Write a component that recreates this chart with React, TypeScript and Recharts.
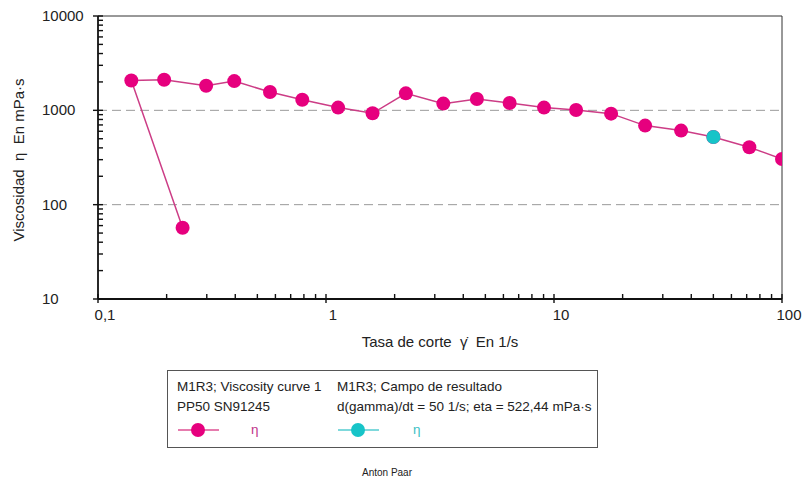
import { ScatterChart, Scatter, XAxis, YAxis, ReferenceLine } from 'recharts';

// shear rate (1/s) and viscosity (mPa·s), in measurement order
const shearRate = [0.235, 0.14, 0.195, 0.298, 0.396, 0.568, 0.787, 1.13, 1.6, 2.24, 3.27, 4.59, 6.39, 9.04, 12.5, 17.8, 25.1, 36.1, 50, 71.9, 100];
const viscosity = [57, 2075, 2113, 1825, 2042, 1563, 1297, 1069, 930, 1514, 1178, 1318, 1194, 1069, 1007, 922, 689, 610, 522.44, 406, 305];

// result field point
const resultRate = [50];
const resultEta = [522.44];

const xTicks = [0.1, 0.2, 0.3, 0.4, 0.5, 0.6, 0.7, 0.8, 0.9, 1, 2, 3, 4, 5, 6, 7, 8, 9, 10, 20, 30, 40, 50, 60, 70, 80, 90, 100];
const xMajor = [0.1, 1, 10, 100];
const xTickLabels = ['0,1', '1', '10', '100'];

const yTicks = [10, 20, 30, 40, 50, 60, 70, 80, 90, 100, 200, 300, 400, 500, 600, 700, 800, 900, 1000, 2000, 3000, 4000, 5000, 6000, 7000, 8000, 9000, 10000];
const yMajor = [10, 100, 1000, 10000];
const yTickLabels = ['10', '100', '1000', '10000'];
const gridLevels = [100, 1000];

const MAGENTA = '#e6007e';
const LINE = '#cc3d86';
const CYAN = '#17c4c8';
const FONT = '"Liberation Sans", Arial, sans-serif';

const curveData = shearRate.map((x, i) => ({ x, y: viscosity[i] }));
const resultData = resultRate.map((x, i) => ({ x, y: resultEta[i] }));

// minor ticks point into the plot, major ticks cross the axis
const renderXTick = (props: any) => {
  const { x, y, payload, index } = props;
  const idx = xMajor.indexOf(payload.value);
  const major = idx >= 0;
  return (
    <g key={`xt-${index}`}>
      <rect x={x - 0.7} y={y - 5} width={1.4} height={major ? 9 : 5} fill="#111111" />
      {major ? (
        <text x={x + 7} y={y + 21} textAnchor="middle" fontSize={15} fontFamily={FONT} fill="#222">
          {xTickLabels[idx]}
        </text>
      ) : null}
    </g>
  );
};

const renderYTick = (props: any) => {
  const { x, y, payload, index } = props;
  const idx = yMajor.indexOf(payload.value);
  const major = idx >= 0;
  return (
    <g key={`yt-${index}`}>
      <rect x={major ? x - 5 : x} y={y - 0.7} width={major ? 10 : 5} height={1.4} fill="#111111" />
      {major ? (
        <text x={x - 56} y={y + 5} textAnchor="start" fontSize={15} fontFamily={FONT} fill="#222">
          {yTickLabels[idx]}
        </text>
      ) : null}
    </g>
  );
};

const Dot = (color: string) => (props: any) => (
  <circle cx={props.cx} cy={props.cy} r={7} fill={color} />
);

const LegendMark = ({ color, lineColor }: { color: string; lineColor: string }) => (
  <svg width={44} height={16} style={{ display: 'block' }}>
    <rect x={1} y={7} width={41} height={2} fill={lineColor} />
    <circle cx={21} cy={8} r={7} fill={color} />
  </svg>
);

export default function App() {
  return (
    <div style={{ position: 'absolute', left: 0, top: 0, width: 806, height: 482, background: '#fff', fontFamily: FONT }}>
      <ScatterChart width={806} height={360} margin={{ top: 16, right: 24, left: 0, bottom: 0 }}>
        <XAxis
          dataKey="x"
          type="number"
          scale="log"
          domain={[0.1, 100]}
          allowDataOverflow
          ticks={xTicks}
          interval={0}
          tick={renderXTick}
          tickLine={false}
          tickSize={0}
          tickMargin={0}
          height={61}
          axisLine={{ stroke: '#111', strokeWidth: 1.8 }}
        />
        <YAxis
          dataKey="y"
          type="number"
          scale="log"
          domain={[10, 10000]}
          allowDataOverflow
          ticks={yTicks}
          interval={0}
          tick={renderYTick}
          tickLine={false}
          tickSize={0}
          tickMargin={0}
          width={98}
          axisLine={{ stroke: '#111', strokeWidth: 1.8 }}
        />
        {gridLevels.map(v => (
          <ReferenceLine key={v} y={v} stroke="#9a9a9a" strokeDasharray="9 5" strokeWidth={1} />
        ))}
        <ReferenceLine y={10000} stroke="#333" strokeWidth={1} />
        <ReferenceLine x={100} stroke="#333" strokeWidth={1} />
        <Scatter
          data={curveData}
          line={{ stroke: LINE, strokeWidth: 1.5 }}
          shape={Dot(MAGENTA)}
          isAnimationActive={false}
        />
        <Scatter data={resultData} shape={Dot(CYAN)} isAnimationActive={false} />
      </ScatterChart>

      <div style={{ position: 'absolute', left: 0, width: 880, top: 333, textAlign: 'center', fontSize: 15, color: '#222', whiteSpace: 'pre' }}>
        {'Tasa de corte  \u03B3\u0307  En 1/s'}
      </div>
      <div
        style={{
          position: 'absolute', left: 18, top: 160, fontSize: 15, color: '#222', whiteSpace: 'pre',
          transform: 'translate(-50%, -50%) rotate(-90deg)',
        }}
      >
        {'Viscosidad  \u03B7  En mPa\u00B7s'}
      </div>

      <div
        style={{
          position: 'absolute', left: 167, top: 370, width: 429, height: 76,
          border: '1.5px solid #555', fontSize: 13.5, color: '#222', lineHeight: '20px',
        }}
      >
        <div style={{ position: 'absolute', left: 9, top: 6 }}>
          <div>M1R3; Viscosity curve 1</div>
          <div>PP50 SN91245</div>
          <div style={{ display: 'flex', alignItems: 'center', marginTop: 3 }}>
            <LegendMark color={MAGENTA} lineColor="#e67cae" />
            <span style={{ marginLeft: 30, color: '#c0338a' }}>η</span>
          </div>
        </div>
        <div style={{ position: 'absolute', left: 169, top: 6 }}>
          <div>M1R3; Campo de resultado</div>
          <div>d(gamma)/dt = 50 1/s; eta = 522,44 mPa·s</div>
          <div style={{ display: 'flex', alignItems: 'center', marginTop: 3 }}>
            <LegendMark color={CYAN} lineColor="#7fd9dc" />
            <span style={{ marginLeft: 32, color: '#3bbfc4' }}>η</span>
          </div>
        </div>
      </div>

      <div style={{ position: 'absolute', left: 0, width: 774, top: 467, textAlign: 'center', fontSize: 10, color: '#222' }}>
        Anton Paar
      </div>
    </div>
  );
}
